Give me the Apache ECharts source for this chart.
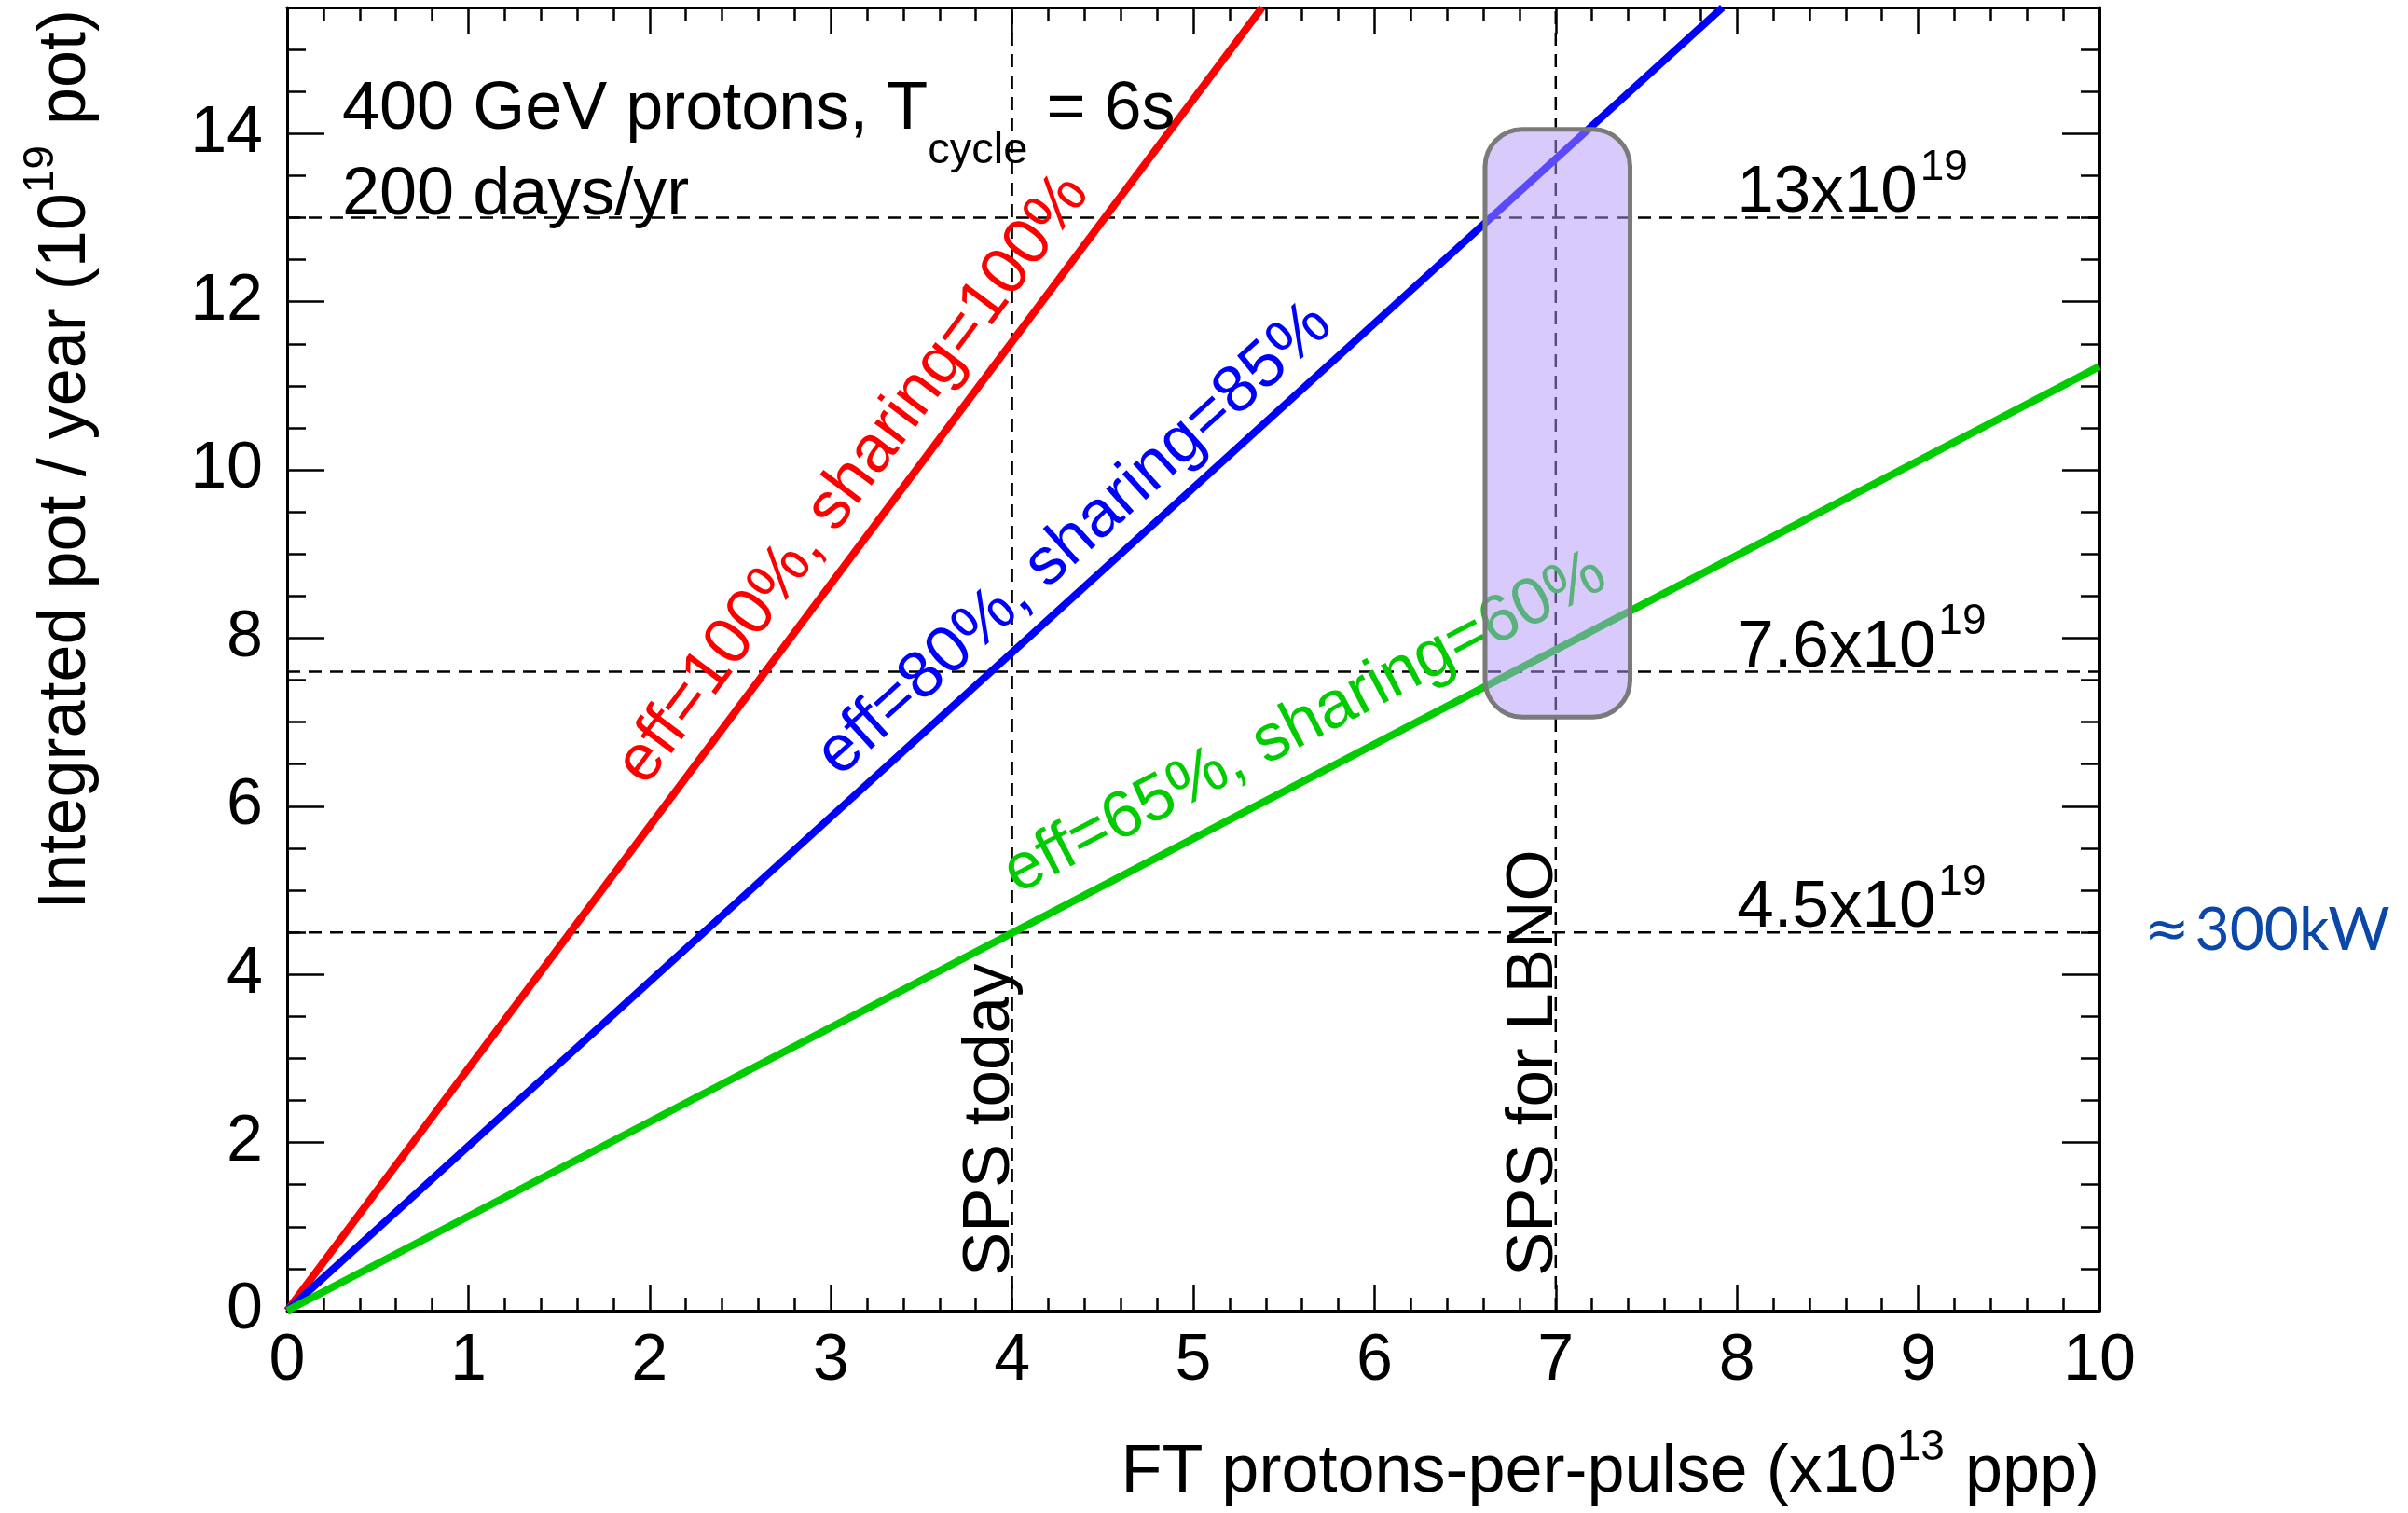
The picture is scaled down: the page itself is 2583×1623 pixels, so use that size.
<!DOCTYPE html>
<html><head><meta charset="utf-8">
<script src="https://cdn.jsdelivr.net/npm/echarts@6/dist/echarts.min.js"></script>
<style>html,body{margin:0;padding:0;background:#fff}#c{width:2583px;height:1623px}</style>
</head><body><div id="c"></div>
<script>
// ---------------- data ----------------
const xTickLabels = ['0','1','2','3','4','5','6','7','8','9','10'];
const yTickLabels = ['0','2','4','6','8','10','12','14'];
const seriesNames = ['eff=100%, sharing=100%', 'eff=80%, sharing=85%', 'eff=65%, sharing=60%'];
const seriesColors = ['#ff0000', '#0000ff', '#00cc00'];
const redLine   = [[0, 0], [5.38, 15.5]];
const blueLine  = [[0, 0], [7.92, 15.5]];
const greenLine = [[0, 0], [10, 11.23]];
const refLevels = [13, 7.6, 4.5];
const refLevelText = ['13x10', '7.6x10', '4.5x10'];
const refLevelExp = '19';
const spsValues = [4, 7];
const spsLabels = ['SPS today', 'SPS for LBNO'];
const lbnoBox = [6.61, 7.06, 7.41, 14.05]; // x0, y0, x1, y1
const powerApprox = '\u2248';
const powerLabel = '300kW';
// label anchor points (text centres) in data units
const lineLabelAt = [[3.13, 9.88], [4.35, 9.16], [5.62, 6.97]];

// ---------------- helpers ----------------
const FONT = '"Liberation Sans", Arial, Helvetica, sans-serif';
const mctx = document.createElement('canvas').getContext('2d');
function tw(t, s, fam) { mctx.font = s + 'px ' + (fam || FONT); return mctx.measureText(t).width; }
function seqWidth(pieces) { let w = 0; for (const p of pieces) w += tw(p.t, p.s, p.fam) + (p.gap || 0); return w; }
function seq(x0, y0, ang, pieces, z) {
  const els = []; let off = 0;
  const ca = Math.cos(ang), sa = Math.sin(ang);
  for (const p of pieces) {
    const fam = p.fam || FONT, rise = p.rise || 0, bo = p.bo == null ? 0.3465 : p.bo;
    els.push({
      type: 'text', x: x0 + ca * off - sa * rise, y: y0 - sa * off - ca * rise,
      rotation: ang, z: z || 3, silent: true,
      style: { text: p.t, x: 0, y: -bo * p.s, font: p.s + 'px ' + fam, fill: p.fill || '#000',
               align: 'left', verticalAlign: 'middle' }
    });
    off += tw(p.t, p.s, fam) + (p.gap || 0);
  }
  return els;
}

// ---------------- chart ----------------
const chart = echarts.init(document.getElementById('c'), null, { renderer: 'canvas', width: 2583, height: 1623 });
const BLACK = '#000';
function xAxisDef(pos, labels) {
  return {
    type: 'value', position: pos, min: 0, max: 10, interval: 1,
    axisLine: { show: true, onZero: false, lineStyle: { color: BLACK, width: 3 } },
    axisTick: { show: true, inside: true, length: 28, lineStyle: { color: BLACK, width: 2.5 } },
    minorTick: { show: true, splitNumber: 5, length: 14, lineStyle: { color: BLACK, width: 2.5 } },
    splitLine: { show: false }, minorSplitLine: { show: false },
    axisLabel: { show: labels, margin: 20, fontSize: 70, fontFamily: FONT, color: BLACK,
      formatter: v => (Math.abs(v - Math.round(v)) < 1e-9 ? xTickLabels[Math.round(v)] : '') }
  };
}
function yAxisDef(pos, major, labels) {
  return {
    type: 'value', position: pos, min: 0, max: 15.5, interval: major ? 2 : 0.5, offset: 0,
    axisLine: { show: major, onZero: false, lineStyle: { color: BLACK, width: 3 } },
    axisTick: { show: true, inside: true, length: major ? 40 : 20, lineStyle: { color: BLACK, width: 2.5 } },
    minorTick: { show: false }, splitLine: { show: false }, minorSplitLine: { show: false },
    axisLabel: { show: labels, margin: 26, fontSize: 70, fontFamily: FONT, color: BLACK,
      formatter: v => { const k = v / 2; return (Math.abs(k - Math.round(k)) < 1e-9 && v <= 14) ? yTickLabels[Math.round(k)] : ''; } }
  };
}

const series = [];
spsValues.forEach(v => series.push({ type: 'line', z: 1, silent: true, symbol: 'none', data: [[v, 0], [v, 15.5]],
  lineStyle: { color: BLACK, width: 2.5, type: [14, 9] } }));
refLevels.forEach(v => series.push({ type: 'line', z: 1, silent: true, symbol: 'none', data: [[0, v], [10, v]],
  lineStyle: { color: BLACK, width: 2.5, type: [14, 9] } }));
[redLine, blueLine, greenLine].forEach((d, i) => series.push({ type: 'line', name: seriesNames[i], z: 2, silent: true,
  symbol: 'none', data: d, lineStyle: { color: seriesColors[i], width: 8 } }));
series.push({
  type: 'custom', z: 10, silent: true, xAxisIndex: 0, yAxisIndex: 0, data: [lbnoBox],
  encode: { x: [0, 2], y: [1, 3] },
  renderItem: (params, api) => {
    const p0 = api.coord([api.value(0), api.value(3)]);
    const p1 = api.coord([api.value(2), api.value(1)]);
    return { type: 'rect', shape: { x: p0[0], y: p0[1], width: p1[0] - p0[0], height: p1[1] - p0[1], r: 40 },
      style: { fill: 'rgba(178,150,245,0.5)', stroke: '#7a7a7a', lineWidth: 5 } };
  }
});

chart.setOption({
  animation: false,
  backgroundColor: '#fff',
  grid: { left: 308, right: 331, top: 8, bottom: 217, containLabel: false, outerBoundsMode: 'none' },
  xAxis: [xAxisDef('bottom', true), xAxisDef('top', false)],
  yAxis: [yAxisDef('left', true, true), yAxisDef('left', false, false), yAxisDef('right', true, false), yAxisDef('right', false, false)],
  series: series
});

// ---------------- annotations ----------------
const px = p => chart.convertToPixel({ xAxisIndex: 0, yAxisIndex: 0 }, p);
let els = [];
// top-left info
els = els.concat(seq(367, 143, 0, [{ t: '400 GeV protons, T', s: 72 }, { t: 'cycle', s: 47, rise: -35 }, { t: ' = 6s', s: 72 }]));
els = els.concat(seq(367, 235, 0, [{ t: '200 days/yr', s: 72 }]));
// axis titles
const xt = [{ t: 'FT protons-per-pulse (x10', s: 72 }, { t: '13', s: 46, rise: 36, gap: 2 }, { t: ' ppp)', s: 72 }];
els = els.concat(seq(2252 - seqWidth(xt), 1605, 0, xt));
const yt = [{ t: 'Integrated pot / year (10', s: 72 }, { t: '19', s: 46, rise: 36, gap: 2 }, { t: ' pot)', s: 72 }];
els = els.concat(seq(96, 10 + seqWidth(yt), Math.PI / 2, yt));
// line labels
[redLine, blueLine, greenLine].forEach((d, i) => {
  const a = px(d[0]), b = px(d[1]);
  const ang = Math.atan2(-(b[1] - a[1]), b[0] - a[0]);
  const c = px(lineLabelAt[i]);
  const pieces = [{ t: seriesNames[i], s: 71, fill: seriesColors[i] }];
  const w = seqWidth(pieces);
  const ca = Math.cos(ang), sa = Math.sin(ang), dn = 0.33 * 71;
  els = els.concat(seq(c[0] - ca * w / 2 + sa * dn, c[1] + sa * w / 2 + ca * dn, ang, pieces));
});
// level labels
refLevels.forEach((v, i) => {
  const p = px([8.0, v]);
  els = els.concat(seq(p[0], p[1] - 1, 0, [{ t: refLevelText[i], s: 71, gap: 3 }, { t: refLevelExp, s: 46, rise: 36 }]));
});
// SPS labels
spsValues.forEach((v, i) => {
  const p = px([v, 0.41]);
  els = els.concat(seq(p[0] + 1, p[1], Math.PI / 2, [{ t: spsLabels[i], s: 71 }]));
});
// power label
const pp = px([10, 4.5]);
els = els.concat(seq(2300, pp[1] + 23, 0, [
  { t: powerApprox, s: 58, fam: '"DejaVu Sans", sans-serif', fill: '#0b47a8', bo: 0.38, gap: 6 },
  { t: powerLabel, s: 64, fam: 'Lato, "Open Sans", sans-serif', fill: '#0b47a8', bo: 0.387 }]));

chart.setOption({ graphic: els });
</script>
</body></html>
